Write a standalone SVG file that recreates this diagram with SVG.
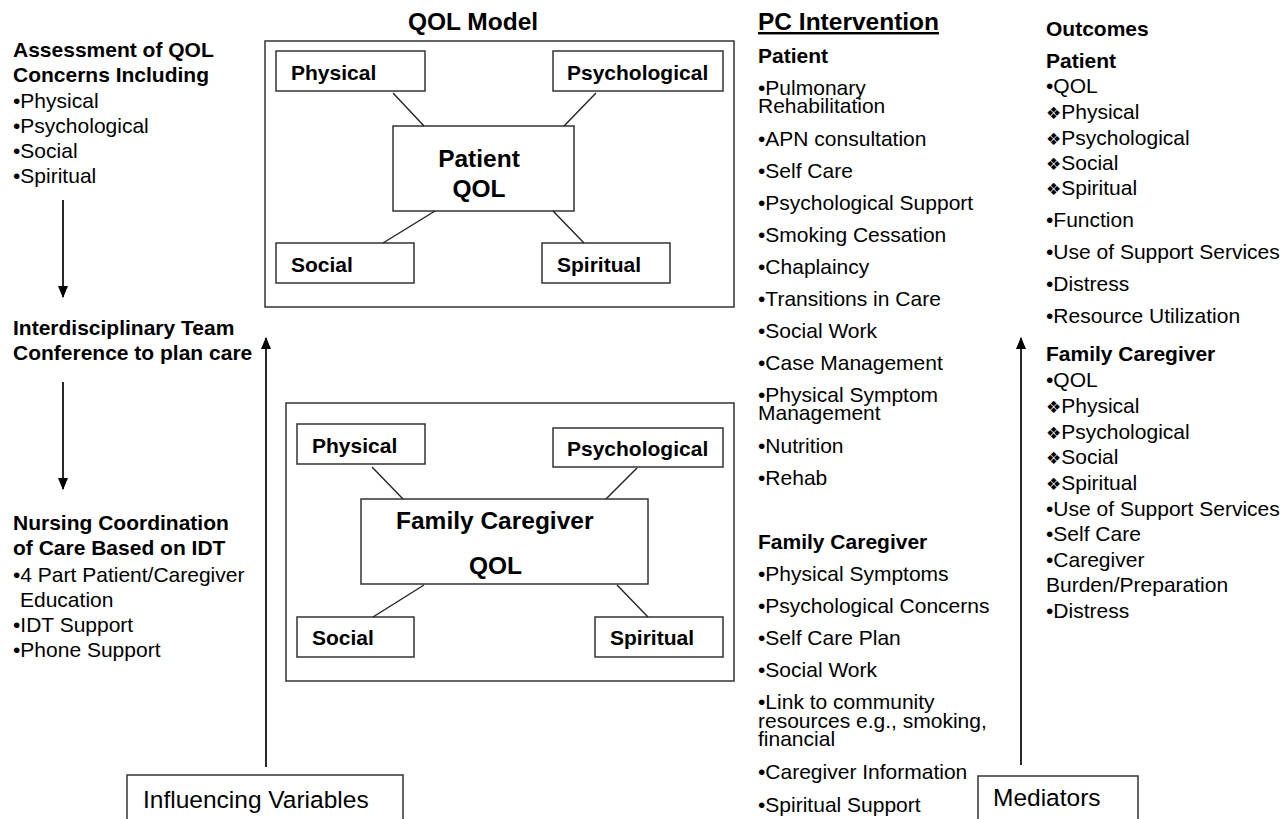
<svg xmlns="http://www.w3.org/2000/svg" width="1285" height="819" viewBox="0 0 1285 819">
<style>
text{font-family:"Liberation Sans",Arial,sans-serif;fill:#000}
.r{font-size:21px}
.b{font-size:21px;font-weight:bold}
.t{font-size:24.5px;font-weight:bold}
.big{font-size:24.5px}
.box{fill:#fff;stroke:#333;stroke-width:1.5}
.ln{stroke:#222;stroke-width:1.4;fill:none}
.ar{stroke:#111;stroke-width:1.8;fill:none}
.d{font-family:"DejaVu Sans",sans-serif;font-size:17px}
</style>
<defs>
<marker id="ah" viewBox="0 0 12 10" refX="11" refY="5" markerWidth="12" markerHeight="10" markerUnits="userSpaceOnUse" orient="auto">
<path d="M0,0 L12,5 L0,10 z" fill="#000"/>
</marker>
</defs>
<rect width="1285" height="819" fill="#fff"/>

<g id="assessment">
<text class="b" x="13" y="57">Assessment of QOL</text>
<text class="b" x="13" y="82">Concerns Including</text>
<text class="r" x="13" y="108">•Physical</text>
<text class="r" x="13" y="133">•Psychological</text>
<text class="r" x="13" y="158">•Social</text>
<text class="r" x="13" y="183">•Spiritual</text>
</g>
<g id="idt">
<text class="b" x="13" y="335">Interdisciplinary Team</text>
<text class="b" x="13" y="360">Conference to plan care</text>
</g>
<g id="nursing">
<text class="b" x="13" y="530">Nursing Coordination</text>
<text class="b" x="13" y="555">of Care Based on IDT</text>
<text class="r" x="13" y="582">•4 Part Patient/Caregiver</text>
<text class="r" x="20" y="607">Education</text>
<text class="r" x="13" y="632">•IDT Support</text>
<text class="r" x="13" y="657">•Phone Support</text>
</g>

<g id="patient-qol-model">
<text class="t" x="473" y="30" text-anchor="middle">QOL Model</text>
<rect class="box" x="265" y="41" width="469" height="266"/>
<g id="p-physical"><rect class="box" x="276" y="51" width="149" height="40"/><text class="b" x="291" y="80">Physical</text></g>
<g id="p-psychological"><rect class="box" x="553" y="51" width="170" height="40"/><text class="b" x="567" y="80">Psychological</text></g>
<g id="p-center"><rect class="box" x="393" y="126" width="181" height="85"/><text class="t" x="479" y="167" text-anchor="middle">Patient</text><text class="t" x="479" y="197" text-anchor="middle">QOL</text></g>
<g id="p-social"><rect class="box" x="276" y="243" width="138" height="40"/><text class="b" x="291" y="272">Social</text></g>
<g id="p-spiritual"><rect class="box" x="542" y="243" width="128" height="40"/><text class="b" x="557" y="272">Spiritual</text></g>
</g>

<g id="family-qol-model">
<rect class="box" x="286" y="403" width="448" height="278"/>
<g id="f-physical"><rect class="box" x="297" y="424" width="128" height="40"/><text class="b" x="312" y="453">Physical</text></g>
<g id="f-psychological"><rect class="box" x="553" y="428" width="170" height="39"/><text class="b" x="567" y="456">Psychological</text></g>
<g id="f-center"><rect class="box" x="361" y="499" width="287" height="85"/><text class="t" x="396" y="529">Family Caregiver</text><text class="t" x="469" y="574">QOL</text></g>
<g id="f-social"><rect class="box" x="297" y="617" width="117" height="40"/><text class="b" x="312" y="645">Social</text></g>
<g id="f-spiritual"><rect class="box" x="595" y="617" width="128" height="40"/><text class="b" x="610" y="645">Spiritual</text></g>
</g>

<g id="pc-intervention">
<text class="t" x="758" y="30" text-decoration="underline">PC Intervention</text>
<text class="b" x="758" y="63">Patient</text>
<text class="r" x="758" y="95">•Pulmonary<tspan x="758" dy="18">Rehabilitation</tspan></text>
<text class="r" x="758" y="146">•APN consultation</text>
<text class="r" x="758" y="178">•Self Care</text>
<text class="r" x="758" y="210">•Psychological Support</text>
<text class="r" x="758" y="242">•Smoking Cessation</text>
<text class="r" x="758" y="274">•Chaplaincy</text>
<text class="r" x="758" y="306">•Transitions in Care</text>
<text class="r" x="758" y="338">•Social Work</text>
<text class="r" x="758" y="370">•Case Management</text>
<text class="r" x="758" y="402">•Physical Symptom<tspan x="758" dy="18">Management</tspan></text>
<text class="r" x="758" y="453">•Nutrition</text>
<text class="r" x="758" y="485">•Rehab</text>
<text class="b" x="758" y="549">Family Caregiver</text>
<text class="r" x="758" y="581">•Physical Symptoms</text>
<text class="r" x="758" y="613">•Psychological Concerns</text>
<text class="r" x="758" y="645">•Self Care Plan</text>
<text class="r" x="758" y="677">•Social Work</text>
<text class="r" x="758" y="709">•Link to community<tspan x="758" dy="18.5">resources e.g., smoking,</tspan><tspan x="758" dy="18.5">financial</tspan></text>
<text class="r" x="758" y="779">•Caregiver Information</text>
<text class="r" x="758" y="812">•Spiritual Support</text>
</g>

<g id="outcomes">
<text class="b" x="1046" y="36">Outcomes</text>
<text class="b" x="1046" y="68">Patient</text>
<text class="r" x="1046" y="93">•QOL</text>
<text class="r" x="1046" y="119"><tspan class="d">❖</tspan>Physical</text>
<text class="r" x="1046" y="145"><tspan class="d">❖</tspan>Psychological</text>
<text class="r" x="1046" y="170"><tspan class="d">❖</tspan>Social</text>
<text class="r" x="1046" y="195"><tspan class="d">❖</tspan>Spiritual</text>
<text class="r" x="1046" y="227">•Function</text>
<text class="r" x="1046" y="259">•Use of Support Services</text>
<text class="r" x="1046" y="291">•Distress</text>
<text class="r" x="1046" y="323">•Resource Utilization</text>
<text class="b" x="1046" y="361">Family Caregiver</text>
<text class="r" x="1046" y="387">•QOL</text>
<text class="r" x="1046" y="413"><tspan class="d">❖</tspan>Physical</text>
<text class="r" x="1046" y="439"><tspan class="d">❖</tspan>Psychological</text>
<text class="r" x="1046" y="464"><tspan class="d">❖</tspan>Social</text>
<text class="r" x="1046" y="490"><tspan class="d">❖</tspan>Spiritual</text>
<text class="r" x="1046" y="516">•Use of Support Services</text>
<text class="r" x="1046" y="541">•Self Care</text>
<text class="r" x="1046" y="567">•Caregiver<tspan x="1046" dy="25">Burden/Preparation</tspan></text>
<text class="r" x="1046" y="618">•Distress</text>
</g>

<g id="influencing">
<rect class="box" x="127" y="775" width="276" height="60"/>
<text class="big" x="143" y="808">Influencing Variables</text>
</g>
<g id="mediators">
<rect class="box" x="978" y="776" width="160" height="60"/>
<text class="big" x="993" y="806">Mediators</text>
</g>

<g id="connectors">
<line class="ln" x1="393" y1="93" x2="424" y2="126"/>
<line class="ln" x1="596" y1="93" x2="564" y2="126"/>
<line class="ln" x1="435" y1="211" x2="383" y2="243"/>
<line class="ln" x1="553" y1="211" x2="584" y2="243"/>
<line class="ln" x1="372" y1="467" x2="403" y2="499"/>
<line class="ln" x1="637" y1="468" x2="606" y2="499"/>
<line class="ln" x1="424" y1="585" x2="373" y2="617"/>
<line class="ln" x1="617" y1="585" x2="648" y2="617"/>
<line class="ar" x1="63" y1="200" x2="63" y2="297" marker-end="url(#ah)"/>
<line class="ar" x1="63" y1="382" x2="63" y2="489" marker-end="url(#ah)"/>
<line class="ar" x1="266" y1="767" x2="266" y2="338" marker-end="url(#ah)"/>
<line class="ar" x1="1021" y1="765" x2="1021" y2="338" marker-end="url(#ah)"/>
</g>
</svg>
